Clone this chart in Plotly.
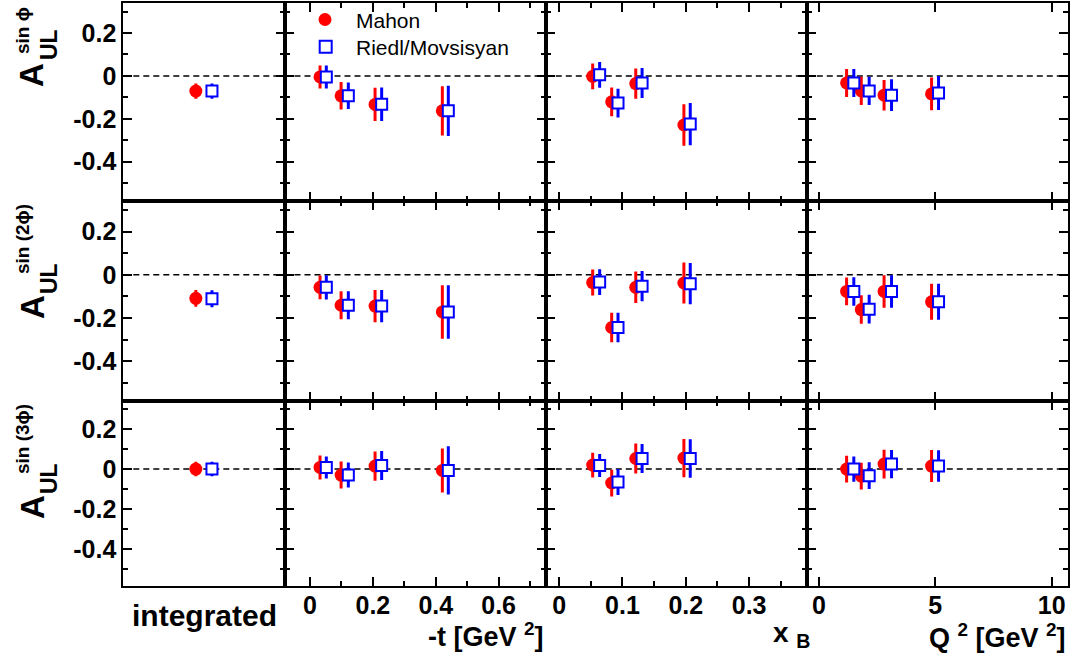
import plotly.graph_objects as go

# ---------------- data ----------------
# x positions (bin means)
int_pos_mahon = [0.45]
int_pos_riedl = [0.55]
t_mahon = [0.032, 0.099, 0.207, 0.421]
t_riedl = [0.052, 0.122, 0.228, 0.440]
xb_mahon = [0.053, 0.083, 0.121, 0.197]
xb_riedl = [0.064, 0.093, 0.131, 0.207]
q2_mahon = [1.19, 1.82, 2.80, 4.84]
q2_riedl = [1.50, 2.16, 3.12, 5.14]

# row 1: sin(phi)
s1_int_mahon, s1_int_mahon_err = [-0.071], [0.036]
s1_int_riedl, s1_int_riedl_err = [-0.071], [0.036]
s1_t_mahon, s1_t_mahon_err = [-0.005, -0.093, -0.133, -0.163], [0.054, 0.064, 0.078, 0.115]
s1_t_riedl, s1_t_riedl_err = [-0.005, -0.093, -0.132, -0.163], [0.054, 0.062, 0.078, 0.117]
s1_xb_mahon, s1_xb_mahon_err = [-0.002, -0.121, -0.036, -0.229], [0.060, 0.067, 0.071, 0.097]
s1_xb_riedl, s1_xb_riedl_err = [0.005, -0.127, -0.033, -0.225], [0.060, 0.067, 0.070, 0.098]
s1_q2_mahon, s1_q2_mahon_err = [-0.033, -0.070, -0.090, -0.084], [0.065, 0.066, 0.071, 0.076]
s1_q2_riedl, s1_q2_riedl_err = [-0.033, -0.070, -0.090, -0.080], [0.065, 0.066, 0.074, 0.079]

# row 2: sin(2phi)
s2_int_mahon, s2_int_mahon_err = [-0.109], [0.039]
s2_int_riedl, s2_int_riedl_err = [-0.111], [0.039]
s2_t_mahon, s2_t_mahon_err = [-0.058, -0.141, -0.145, -0.172], [0.055, 0.065, 0.075, 0.124]
s2_t_riedl, s2_t_riedl_err = [-0.058, -0.141, -0.145, -0.172], [0.056, 0.065, 0.075, 0.124]
s2_xb_mahon, s2_xb_mahon_err = [-0.036, -0.244, -0.058, -0.038], [0.060, 0.068, 0.073, 0.095]
s2_xb_riedl, s2_xb_riedl_err = [-0.034, -0.244, -0.053, -0.041], [0.060, 0.068, 0.070, 0.095]
s2_q2_mahon, s2_q2_mahon_err = [-0.077, -0.161, -0.077, -0.125], [0.064, 0.066, 0.075, 0.083]
s2_q2_riedl, s2_q2_riedl_err = [-0.077, -0.159, -0.077, -0.125], [0.066, 0.066, 0.075, 0.083]

# row 3: sin(3phi)
s3_int_mahon, s3_int_mahon_err = [0.0], [0.036]
s3_int_riedl, s3_int_riedl_err = [0.0], [0.036]
s3_t_mahon, s3_t_mahon_err = [0.008, -0.030, 0.015, -0.007], [0.060, 0.068, 0.073, 0.110]
s3_t_riedl, s3_t_riedl_err = [0.008, -0.030, 0.018, -0.007], [0.055, 0.063, 0.073, 0.121]
s3_xb_mahon, s3_xb_mahon_err = [0.020, -0.070, 0.053, 0.055], [0.062, 0.067, 0.075, 0.096]
s3_xb_riedl, s3_xb_riedl_err = [0.018, -0.065, 0.053, 0.053], [0.058, 0.065, 0.073, 0.096]
s3_q2_mahon, s3_q2_mahon_err = [0.000, -0.035, 0.025, 0.015], [0.067, 0.067, 0.072, 0.080]
s3_q2_riedl, s3_q2_riedl_err = [0.000, -0.033, 0.025, 0.015], [0.063, 0.067, 0.071, 0.079]

# ticks
y_tickvals = [-0.4, -0.2, 0, 0.2]
y_ticktext = ["-0.4", "-0.2", "0", "0.2"]
t_tickvals = [0, 0.2, 0.4, 0.6]
t_ticktext = ["0", "0.2", "0.4", "0.6"]
xb_tickvals = [0, 0.1, 0.2, 0.3]
xb_ticktext = ["0", "0.1", "0.2", "0.3"]
q2_tickvals = [0, 5, 10]
q2_ticktext = ["0", "5", "10"]

series_names = ["Mahon", "Riedl/Movsisyan"]
row_titles_sup = ["sin \u03d5", "sin (2\u03d5)", "sin (3\u03d5)"]

# ---------------- layout geometry ----------------
W, H = 1077, 655
col_edges = [123.3, 284.5, 545.8, 806.8, 1067.5]
row_edges = [3, 201.3, 401.2, 585.8]
x_ranges = [[0, 1], [-0.081, 0.75], [-0.021, 0.391], [-0.52, 10.68]]
y_range = [-0.585, 0.34]

FONT = "Liberation Sans, Arial, sans-serif"
RED = "#ff0000"
BLUE = "#0000ff"

def px(x):
    return x / W

def py(y):
    return 1 - y / H

fig = go.Figure()

rows_data = [
    [(int_pos_mahon, s1_int_mahon, s1_int_mahon_err, int_pos_riedl, s1_int_riedl, s1_int_riedl_err),
     (t_mahon, s1_t_mahon, s1_t_mahon_err, t_riedl, s1_t_riedl, s1_t_riedl_err),
     (xb_mahon, s1_xb_mahon, s1_xb_mahon_err, xb_riedl, s1_xb_riedl, s1_xb_riedl_err),
     (q2_mahon, s1_q2_mahon, s1_q2_mahon_err, q2_riedl, s1_q2_riedl, s1_q2_riedl_err)],
    [(int_pos_mahon, s2_int_mahon, s2_int_mahon_err, int_pos_riedl, s2_int_riedl, s2_int_riedl_err),
     (t_mahon, s2_t_mahon, s2_t_mahon_err, t_riedl, s2_t_riedl, s2_t_riedl_err),
     (xb_mahon, s2_xb_mahon, s2_xb_mahon_err, xb_riedl, s2_xb_riedl, s2_xb_riedl_err),
     (q2_mahon, s2_q2_mahon, s2_q2_mahon_err, q2_riedl, s2_q2_riedl, s2_q2_riedl_err)],
    [(int_pos_mahon, s3_int_mahon, s3_int_mahon_err, int_pos_riedl, s3_int_riedl, s3_int_riedl_err),
     (t_mahon, s3_t_mahon, s3_t_mahon_err, t_riedl, s3_t_riedl, s3_t_riedl_err),
     (xb_mahon, s3_xb_mahon, s3_xb_mahon_err, xb_riedl, s3_xb_riedl, s3_xb_riedl_err),
     (q2_mahon, s3_q2_mahon, s3_q2_mahon_err, q2_riedl, s3_q2_riedl, s3_q2_riedl_err)],
]

x_tick_cfg = [
    None,
    (t_tickvals, t_ticktext, 0.1),
    (xb_tickvals, xb_ticktext, 0.05),
    (q2_tickvals, q2_ticktext, None),
]

tickfont = dict(family=FONT, size=25, color="black", weight="bold")
layout_axes = {}
shapes = []

for r in range(3):
    for c in range(4):
        k = r * 4 + c + 1
        xn = "x" if k == 1 else f"x{k}"
        yn = "y" if k == 1 else f"y{k}"
        xa = "xaxis" if k == 1 else f"xaxis{k}"
        ya = "yaxis" if k == 1 else f"yaxis{k}"
        xm, ym, em, xr, yr, er = rows_data[r][c]
        fig.add_trace(go.Scatter(
            x=xm, y=ym, mode="markers", name=series_names[0], showlegend=False,
            xaxis=xn, yaxis=yn,
            marker=dict(symbol="circle", size=13, color=RED, line=dict(width=0)),
            error_y=dict(type="data", array=em, visible=True, width=0, thickness=3, color=RED),
        ))
        fig.add_trace(go.Scatter(
            x=xr, y=yr, mode="markers", name=series_names[1], showlegend=False,
            xaxis=xn, yaxis=yn,
            marker=dict(symbol="square", size=11, color="white", line=dict(width=2, color=BLUE)),
            error_y=dict(type="data", array=er, visible=True, width=0, thickness=3, color=BLUE),
        ))

        xdom = [px(col_edges[c]), px(col_edges[c + 1])]
        ydom = [py(row_edges[r + 1]), py(row_edges[r])]
        xcfg = dict(domain=xdom, range=x_ranges[c], anchor=yn, showgrid=False, zeroline=False,
                    showline=True, linewidth=2, linecolor="black", mirror="allticks",
                    fixedrange=True)
        if x_tick_cfg[c] is None:
            xcfg.update(ticks="", showticklabels=False)
        else:
            tv, tt, mdt = x_tick_cfg[c]
            xcfg.update(ticks="inside", ticklen=9, tickwidth=2, tickcolor="black",
                        tickmode="array", tickvals=tv, ticktext=tt,
                        showticklabels=(r == 2), tickfont=tickfont, ticklabelstandoff=-4)
            if mdt is not None:
                xcfg["minor"] = dict(ticks="inside", ticklen=5, tickwidth=2, tickcolor="black",
                                     dtick=mdt, tick0=0, showgrid=False)
        ycfg = dict(domain=ydom, range=y_range, anchor=xn, showgrid=False, zeroline=False,
                    showline=True, linewidth=2, linecolor="black", mirror="allticks",
                    ticks="inside", ticklen=9, tickwidth=2, tickcolor="black",
                    tickmode="array", tickvals=y_tickvals, ticktext=y_ticktext,
                    showticklabels=(c == 0), tickfont=tickfont, fixedrange=True,
                    minor=dict(ticks="inside", ticklen=5, tickwidth=2, tickcolor="black",
                               dtick=0.1, tick0=0, showgrid=False))
        layout_axes[xa] = xcfg
        layout_axes[ya] = ycfg
        shapes.append(dict(type="line", xref=f"{xn} domain", yref=yn, x0=0, x1=1, y0=0, y1=0,
                           line=dict(color="black", width=1.5, dash="6px,4px"), layer="below"))

annotations = []
# y-axis titles (A_UL^{sin n phi}), rotated
title_rows = [
    dict(A=(32, 75), UL=(49, 45), SUP=(22, 31)),
    dict(A=(32, 307), UL=(49, 279), SUP=(22, 239)),
    dict(A=(32, 507), UL=(49, 479), SUP=(22, 439)),
]
for r, tr in enumerate(title_rows):
    annotations.append(dict(text="<b>A</b>", x=px(tr["A"][0]), y=py(tr["A"][1]), xref="paper", yref="paper",
                            showarrow=False, textangle=-90, xanchor="center", yanchor="middle",
                            font=dict(family=FONT, size=33, color="black")))
    annotations.append(dict(text="<b>UL</b>", x=px(tr["UL"][0]), y=py(tr["UL"][1]), xref="paper", yref="paper",
                            showarrow=False, textangle=-90, xanchor="center", yanchor="middle",
                            font=dict(family=FONT, size=23, color="black")))
    annotations.append(dict(text="<b>" + row_titles_sup[r] + "</b>", x=px(tr["SUP"][0]), y=py(tr["SUP"][1]),
                            xref="paper", yref="paper",
                            showarrow=False, textangle=-90, xanchor="center", yanchor="middle",
                            font=dict(family=FONT, size=19, color="black")))

# x-axis titles
annotations.append(dict(text="<b>integrated</b>", x=px(204.5), y=py(615), xref="paper", yref="paper",
                        showarrow=False, xanchor="center", yanchor="middle",
                        font=dict(family=FONT, size=30, color="black")))
annotations.append(dict(text="<b>-t [GeV <sup>2</sup>]</b>", x=px(546), y=py(635), xref="paper", yref="paper",
                        showarrow=False, xanchor="right", yanchor="middle",
                        font=dict(family=FONT, size=27, color="black")))
annotations.append(dict(text="<b>x <sub>B</sub></b>", x=px(792), y=py(634), xref="paper", yref="paper",
                        showarrow=False, xanchor="center", yanchor="middle",
                        font=dict(family=FONT, size=28, color="black")))
annotations.append(dict(text="<b>Q <sup>2</sup> [GeV <sup>2</sup>]</b>", x=px(1068), y=py(636), xref="paper", yref="paper",
                        showarrow=False, xanchor="right", yanchor="middle",
                        font=dict(family=FONT, size=27, color="black")))

# legend (drawn manually in the top -t panel)
shapes.append(dict(type="circle", xref="paper", yref="paper",
                   x0=px(318.5), x1=px(331.5), y0=py(26), y1=py(13),
                   fillcolor=RED, line=dict(width=0)))
shapes.append(dict(type="rect", xref="paper", yref="paper",
                   x0=px(319.7), x1=px(331.7), y0=py(52.7), y1=py(40.7),
                   fillcolor="white", line=dict(width=2, color=BLUE)))
annotations.append(dict(text=series_names[0], x=px(354), y=py(20), xref="paper", yref="paper",
                        showarrow=False, xanchor="left", yanchor="middle",
                        font=dict(family=FONT, size=21, color="black")))
annotations.append(dict(text=series_names[1], x=px(354), y=py(47), xref="paper", yref="paper",
                        showarrow=False, xanchor="left", yanchor="middle",
                        font=dict(family=FONT, size=21, color="black")))

fig.update_layout(
    width=W, height=H,
    margin=dict(l=0, r=0, t=0, b=0, autoexpand=False),
    paper_bgcolor="white", plot_bgcolor="white",
    showlegend=False,
    shapes=shapes, annotations=annotations,
    **layout_axes,
)

fig.write_html("out.html")
